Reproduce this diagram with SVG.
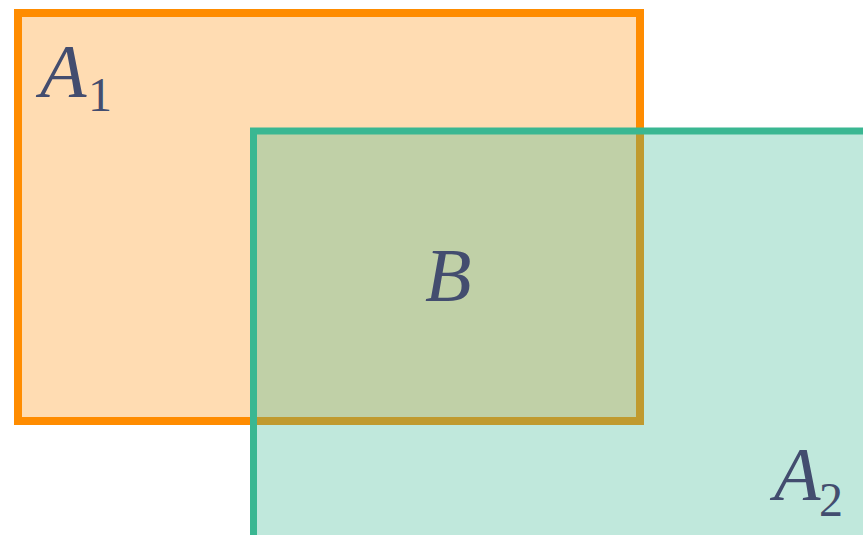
<svg xmlns="http://www.w3.org/2000/svg" width="863" height="535" viewBox="0 0 863 535">
<style>
.lbl{font-family:"Liberation Serif","Times New Roman",serif;fill:#434D6F}
.it{font-style:italic;font-size:76px}
.sub{font-size:48px}
</style>
<rect width="863" height="535" fill="#ffffff"/>
<g id="A1">
<rect x="18" y="13" width="622" height="408" fill="#FF8C00" fill-opacity="0.3" stroke="#FF8C00" stroke-width="8"/>
<text class="lbl" x="40" y="97"><tspan class="it">A</tspan><tspan class="sub" x="88" y="111">1</tspan></text>
</g>
<g id="A2">
<rect x="253.5" y="131" width="700" height="500" fill="#3AB792" fill-opacity="0.32" stroke="#3AB792" stroke-width="7"/>
<text class="lbl" x="774" y="500"><tspan class="it">A</tspan><tspan class="sub" x="819" y="516">2</tspan></text>
</g>
<g id="B">
<text class="lbl it" x="425" y="301">B</text>
</g>
<g id="connectors"/>
</svg>
